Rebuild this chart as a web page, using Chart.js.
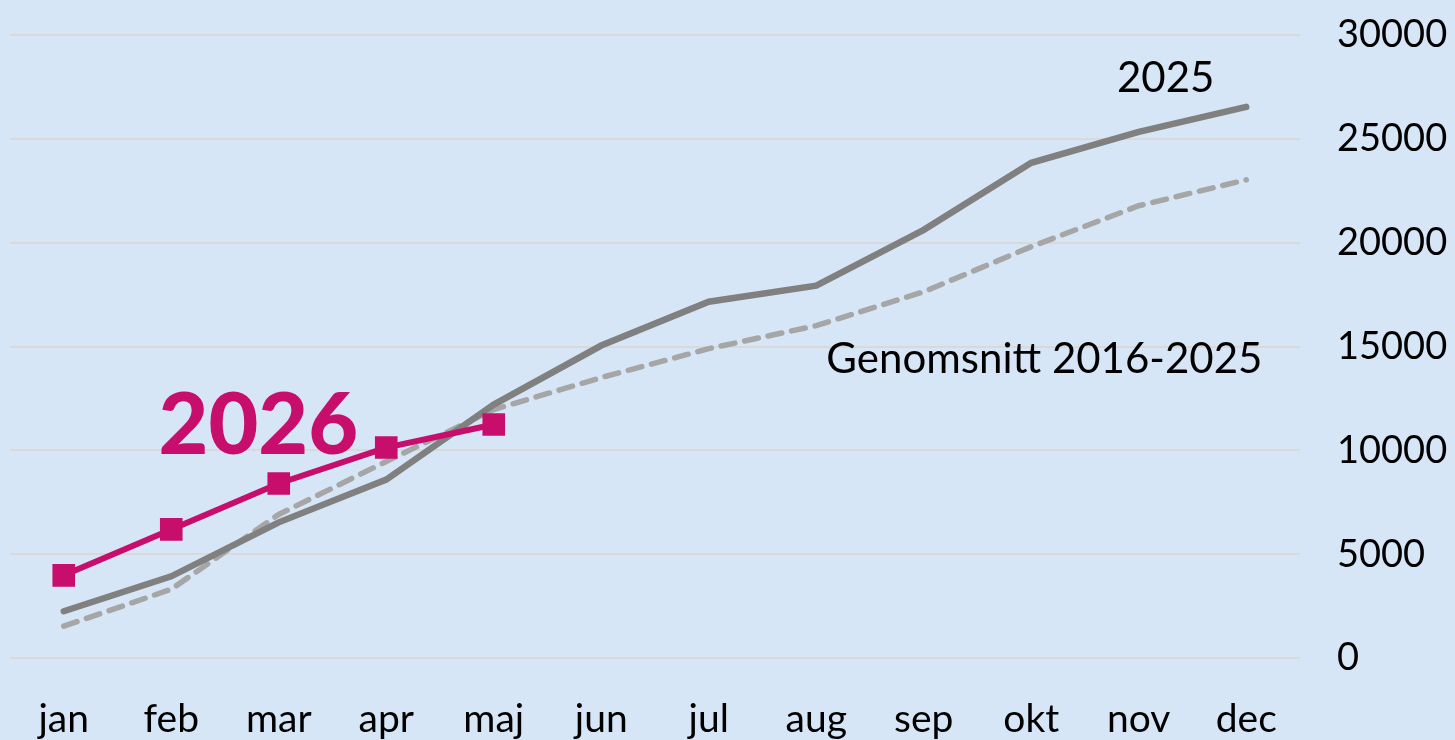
<!DOCTYPE html>
<html>
<head>
<meta charset="utf-8">
<script src="https://cdn.jsdelivr.net/npm/chart.js@4/dist/chart.umd.min.js"></script>
<style>
  html, body { margin: 0; padding: 0; background: #d7e6f6; }
  #wrap { width: 1455px; height: 740px; }
</style>
</head>
<body>
<div id="wrap"><canvas id="myChart"></canvas></div>
<script>
const months = ["jan", "feb", "mar", "apr", "maj", "jun", "jul", "aug", "sep", "okt", "nov", "dec"];
const values2026 = [3990, 6200, 8410, 10140, 11250];
const values2025 = [2260, 3940, 6540, 8600, 12210, 15050, 17160, 17930, 20620, 23850, 25340, 26540];
const valuesAvg = [1540, 3320, 6920, 9470, 11970, 13510, 14900, 16010, 17640, 19810, 21780, 23030];
const yTicks = [0, 5000, 10000, 15000, 20000, 25000, 30000];

const FONT = "Lato, 'DejaVu Sans', sans-serif";

// text labels placed next to the lines, anchored in data space
const lineLabels = {
  id: "lineLabels",
  afterDatasetsDraw(chart) {
    const { ctx, scales } = chart;
    const x = scales.x, y = scales.y;
    ctx.save();
    ctx.textBaseline = "alphabetic";

    ctx.fillStyle = "#c80e6c";
    ctx.font = "900 86px " + FONT;
    ctx.textAlign = "center";
    ctx.fillText("2026", x.getPixelForValue(1.81), y.getPixelForValue(9850));

    ctx.fillStyle = "#000";
    ctx.font = "42px " + FONT;
    ctx.fillText("2025", x.getPixelForValue(10.25), y.getPixelForValue(27250));

    ctx.textAlign = "right";
    ctx.fillText("Genomsnitt 2016-2025", x.getPixelForValue(11.15), y.getPixelForValue(13750));
    ctx.restore();
  },
};

new Chart(document.getElementById("myChart"), {
  type: "line",
  data: {
    labels: months,
    datasets: [
      {
        label: "2026",
        data: values2026,
        borderColor: "#c80e6c",
        backgroundColor: "#c80e6c",
        borderWidth: 6,
        pointStyle: "rect",
        pointRadius: 16,
        pointBorderWidth: 0,
        tension: 0,
      },
      {
        label: "2025",
        data: values2025,
        borderColor: "#808080",
        borderWidth: 6.5,
        borderCapStyle: "round",
        pointRadius: 0,
        tension: 0,
      },
      {
        label: "Genomsnitt 2016-2025",
        data: valuesAvg,
        borderColor: "#a6a6a6",
        borderWidth: 5.5,
        borderDash: [14, 10],
        borderCapStyle: "round",
        pointRadius: 0,
        tension: 0,
      },
    ],
  },
  options: {
    responsive: true,
    maintainAspectRatio: false,
    animation: false,
    layout: { autoPadding: false, padding: { left: 10, top: 35, right: 0, bottom: -33 } },
    plugins: {
      legend: { display: false },
      tooltip: { enabled: false },
    },
    scales: {
      x: {
        offset: true,
        afterFit: (axis) => {
          axis.paddingLeft = 0;
          axis.paddingRight = 0;
        },
        grid: { display: false },
        border: { display: false },
        ticks: {
          color: "#000",
          font: { family: FONT, size: 39 },
          padding: 30,
          maxRotation: 0,
          autoSkip: false,
        },
      },
      y: {
        position: "right",
        min: 0,
        max: 30000,
        afterBuildTicks: (axis) => {
          axis.ticks = yTicks.map((v) => ({ value: v }));
        },
        afterFit: (axis) => {
          axis.width = 155;
          axis.paddingTop = 0;
          axis.paddingBottom = 0;
        },
        grid: { color: "#d9d9d9", lineWidth: 2, drawTicks: false },
        border: { display: false },
        ticks: {
          color: "#000",
          font: { family: FONT, size: 38 },
          padding: 37,
          callback: (v) => String(v),
        },
      },
    },
  },
  plugins: [lineLabels],
});
</script>
</body>
</html>
